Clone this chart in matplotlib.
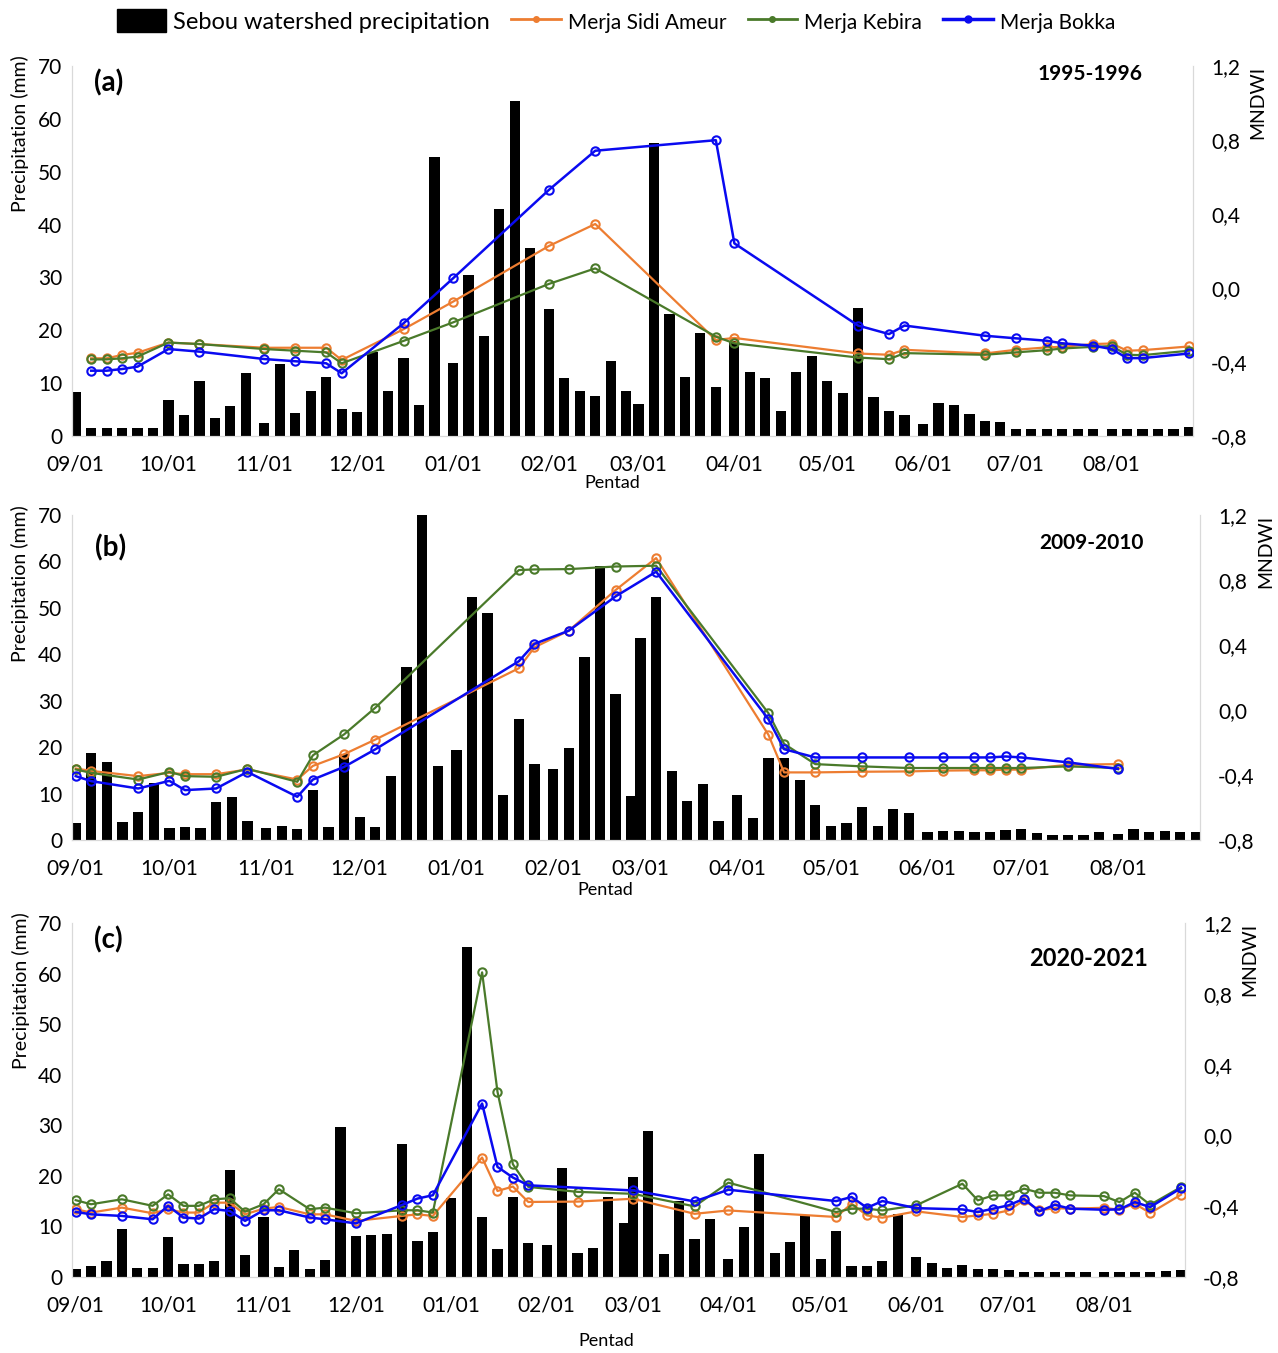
import datetime as dt
import matplotlib
matplotlib.use('Agg')
import matplotlib.pyplot as plt
import matplotlib.dates as mdates
from matplotlib.lines import Line2D
from matplotlib.patches import Patch
from matplotlib.ticker import FixedLocator, FuncFormatter

plt.rcParams['font.family'] = ['Lato', 'DejaVu Sans']

# precipitation per pentad (1,6,11,16,21,26 of each month, Sep -> Aug)
prec_a = [8.4, 1.45, 1.45, 1.6, 1.45, 1.6, 6.8, 4.0, 10.5, 3.4, 5.7, 12.0,
          2.4, 13.6, 4.4, 8.5, 11.2, 5.2, 4.6, 15.8, 8.6, 14.7, 5.9, 52.7,
          13.8, 30.4, 18.9, 42.9, 63.4, 35.6, 24.0, 11.0, 8.6, 7.6, 14.1, 8.6,
          6.0, 55.4, 23.0, 11.1, 19.5, 9.2, 18.0, 12.1, 11.0, 4.7, 12.1, 15.1,
          10.4, 8.2, 24.2, 7.3, 4.7, 4.0, 2.2, 6.2, 5.8, 4.1, 2.8, 2.6,
          1.4, 1.25, 1.25, 1.25, 1.25, 1.25, 1.25, 1.25, 1.25, 1.25, 1.25, 1.7]
prec_b = [3.6, 18.8, 16.7, 3.8, 6.1, 12.2, 2.6, 2.7, 2.6, 8.1, 9.3, 4.1,
          2.5, 3.1, 2.3, 10.7, 2.9, 18.6, 5.0, 2.9, 13.7, 37.2, 70, 16.0,
          19.3, 52.4, 49.0, 9.7, 26.1, 16.3, 15.4, 19.8, 39.4, 59.1, 31.5, 9.4,
          43.5, 52.4, 14.8, 8.4, 12.1, 4.1, 9.6, 4.8, 17.6, 17.6, 12.9, 7.6,
          3.1, 3.7, 7.1, 3.0, 6.6, 5.8, 1.7, 1.9, 1.9, 1.7, 1.7, 2.1,
          2.3, 1.6, 1.0, 1.0, 1.0, 1.7, 1.2, 2.3, 1.7, 1.9, 1.7, 1.7]
prec_c = [1.5, 2.2, 3.2, 9.4, 1.7, 1.7, 7.9, 2.6, 2.5, 3.2, 21.2, 4.4,
          11.9, 2.0, 5.3, 1.6, 3.3, 29.6, 8.1, 8.4, 8.6, 26.3, 7.1, 8.9,
          15.7, 65.3, 11.9, 5.6, 15.9, 6.8, 6.3, 21.5, 4.7, 5.8, 15.9, 10.6,
          19.7, 28.9, 4.5, 15.0, 7.6, 11.4, 3.5, 9.8, 24.4, 4.8, 6.9, 12.2,
          3.6, 9.1, 2.2, 2.2, 3.2, 12.4, 4.0, 2.8, 1.7, 2.4, 1.6, 1.5,
          1.3, 1.0, 0.9, 0.9, 0.9, 0.9, 0.9, 0.9, 0.9, 0.9, 1.2, 1.3]

# MNDWI: pentad index of each image, then values
idx_a = [1, 2, 3, 4, 6, 8, 12, 14, 16, 17, 21, 24, 30, 33, 41, 42, 50, 52, 53, 58, 60, 62, 63, 65, 66, 67, 68, 71]
sidi_a = [-0.380, -0.380, -0.362, -0.350, -0.295, -0.303, -0.323, -0.323, -0.323, -0.389, -0.223, -0.074, 0.227, 0.346,
          -0.281, -0.270, -0.354, -0.361, -0.334, -0.354, -0.334, -0.321, -0.318, -0.303, -0.300, -0.339, -0.336, -0.316]
kebira_a = [-0.386, -0.386, -0.380, -0.371, -0.295, -0.303, -0.330, -0.339, -0.348, -0.407, -0.286, -0.186, 0.022, 0.106,
            -0.263, -0.299, -0.376, -0.385, -0.352, -0.361, -0.348, -0.336, -0.327, -0.318, -0.314, -0.361, -0.363, -0.339]
bokka_a = [-0.447, -0.447, -0.438, -0.425, -0.330, -0.344, -0.384, -0.396, -0.407, -0.461, -0.191, 0.052, 0.530, 0.742,
           0.799, 0.241, -0.203, -0.249, -0.203, -0.258, -0.272, -0.285, -0.299, -0.312, -0.330, -0.379, -0.379, -0.354]

idx_b = [0, 1, 4, 6, 7, 9, 11, 14, 15, 17, 19, 28, 29, 31, 34, 37, 44, 45, 47, 50, 53, 55, 57, 58, 59, 60, 63, 66]
sidi_b = [-0.360, -0.375, -0.407, -0.387, -0.395, -0.395, -0.366, -0.428, -0.344, -0.272, -0.182, 0.257, 0.386, 0.488,
          0.738, 0.935, -0.153, -0.384, -0.384, -0.380, -0.378, -0.373, -0.371, -0.371, -0.367, -0.367, -0.337, -0.333]
kebira_b = [-0.366, -0.387, -0.428, -0.381, -0.407, -0.411, -0.362, -0.442, -0.279, -0.150, 0.014, 0.861, 0.865, 0.867,
            0.883, 0.888, -0.020, -0.208, -0.333, -0.347, -0.357, -0.357, -0.357, -0.357, -0.357, -0.357, -0.347, -0.357]
bokka_b = [-0.407, -0.438, -0.483, -0.436, -0.493, -0.483, -0.381, -0.534, -0.428, -0.350, -0.242, 0.300, 0.407, 0.488,
           0.699, 0.851, -0.057, -0.241, -0.292, -0.292, -0.292, -0.292, -0.292, -0.292, -0.286, -0.292, -0.322, -0.363]

idx_c = [0, 1, 3, 5, 6, 7, 8, 9, 10, 11, 12, 13, 15, 16, 18, 21, 22, 23, 26, 27, 28, 29, 32, 36, 40, 42,
         49, 50, 51, 52, 54, 57, 58, 59, 60, 61, 62, 63, 64, 66, 67, 68, 69, 71]
sidi_c = [-0.417, -0.436, -0.408, -0.440, -0.417, -0.436, -0.436, -0.380, -0.380, -0.446, -0.414, -0.404, -0.446, -0.446,
          -0.483, -0.455, -0.446, -0.455, -0.125, -0.314, -0.289, -0.376, -0.374, -0.358, -0.443, -0.424,
          -0.461, -0.386, -0.452, -0.465, -0.429, -0.461, -0.452, -0.443, -0.424, -0.367, -0.424, -0.411, -0.414,
          -0.409, -0.420, -0.386, -0.439, -0.335]
kebira_c = [-0.366, -0.389, -0.361, -0.398, -0.333, -0.398, -0.398, -0.361, -0.355, -0.431, -0.389, -0.304, -0.417, -0.408,
            -0.440, -0.423, -0.423, -0.436, 0.921, 0.246, -0.163, -0.291, -0.319, -0.330, -0.401, -0.267,
            -0.433, -0.414, -0.414, -0.424, -0.395, -0.273, -0.367, -0.339, -0.339, -0.301, -0.324, -0.324, -0.339,
            -0.343, -0.377, -0.324, -0.392, -0.292]
idx_c_bokka = [0, 1, 3, 5, 6, 7, 8, 9, 10, 11, 12, 13, 15, 16, 18, 21, 22, 23, 26, 27, 28, 29, 36, 40, 42,
               49, 50, 51, 52, 54, 57, 58, 59, 60, 61, 62, 63, 64, 66, 67, 68, 69, 71]
bokka_c = [-0.432, -0.446, -0.455, -0.474, -0.398, -0.464, -0.470, -0.417, -0.427, -0.483, -0.423, -0.423, -0.464, -0.474,
           -0.497, -0.393, -0.357, -0.338, 0.180, -0.178, -0.238, -0.282, -0.311, -0.373, -0.307,
           -0.371, -0.348, -0.409, -0.371, -0.411, -0.418, -0.433, -0.414, -0.395, -0.358, -0.429, -0.392, -0.414,
           -0.420, -0.418, -0.377, -0.405, -0.298]

c_sidi = '#ED7D31'
c_keb = '#4A7A2A'
c_bok = '#0A0AF0'


def pentads(y0):
    out = []
    for k in range(12):
        m = (8 + k) % 12 + 1
        y = y0 if m >= 9 else y0 + 1
        for d in (1, 6, 11, 16, 21, 26):
            out.append(mdates.date2num(dt.date(y, m, d)))
    return out


panels = [
    dict(rect=[72, 66, 1193, 436], y0=1995, lab='(a)', yr='1995-1996', prec=prec_a,
         s=(idx_a, sidi_a), k=(idx_a, kebira_a), b=(idx_a, bokka_a), yrpos=(0.955, 0.978), yrsize=15,
         labpos=(0.02, 0.955), pent=(0.482, -0.127)),
    dict(rect=[72, 515, 1200, 840], y0=2009, lab='(b)', yr='2009-2010', prec=prec_b,
         s=(idx_b, sidi_b), k=(idx_b, kebira_b), b=(idx_b, bokka_b), yrpos=(0.95, 0.915), yrsize=15,
         labpos=(0.02, 0.90), pent=(0.4725, -0.154)),
    dict(rect=[72, 923, 1185, 1277], y0=2020, lab='(c)', yr='2020-2021', prec=prec_c,
         s=(idx_c, sidi_c), k=(idx_c, kebira_c), b=(idx_c_bokka, bokka_c), yrpos=(0.967, 0.90), yrsize=17,
         labpos=(0.02, 0.952), pent=(0.48, -0.18)),
]

W, H = 1278, 1353
fig = plt.figure(figsize=(W / 100, H / 100), dpi=100)

for p in panels:
    x0, top, x1, bot = p['rect']
    ax = fig.add_axes([x0 / W, 1 - bot / H, (x1 - x0) / W, (bot - top) / H])
    xs = pentads(p['y0'])
    ax.bar(xs, p['prec'], width=3.3, color='black', zorder=2)
    ax.set_ylim(0, 70)
    ax.set_yticks(range(0, 71, 10))
    ax.set_xlim(xs[0] - 1.2, xs[-1] + 1.3)
    ax.xaxis.set_major_locator(mdates.MonthLocator())
    ax.xaxis.set_major_formatter(mdates.DateFormatter('%m/%d'))
    ax.tick_params(axis='both', length=0, labelsize=15)
    ax.tick_params(axis='x', pad=13)
    ax.tick_params(axis='y', pad=7)
    for sp in ['left', 'right', 'bottom']:
        ax.spines[sp].set_color('#d9d9d9')
    ax.spines['top'].set_visible(False)

    ax2 = ax.twinx()
    ax2.set_ylim(-0.8, 1.2)
    ax2.yaxis.set_major_locator(FixedLocator([-0.8, -0.4, 0.0, 0.4, 0.8, 1.2]))
    ax2.yaxis.set_major_formatter(FuncFormatter(lambda v, pos: ('%.1f' % v).replace('.', ',')))
    ax2.tick_params(axis='y', length=0, labelsize=15, pad=13)
    for sp in ['left', 'right', 'bottom']:
        ax2.spines[sp].set_color('#d9d9d9')
    ax2.spines['top'].set_visible(False)

    for key, col, lw in [('s', c_sidi, 1.6), ('k', c_keb, 1.6), ('b', c_bok, 1.8)]:
        idx, vals = p[key]
        ax2.plot([xs[i] for i in idx], vals, color=col, lw=lw, marker='o', ms=6,
                 mfc='none', mec=col, mew=1.5, zorder=3)

    ax.text(-0.046, 1.03, 'Precipitation (mm)', transform=ax.transAxes, rotation=90,
            ha='center', va='top', fontsize=14)
    ax2.text(1.058, 1.0, 'MNDWI', transform=ax.transAxes, rotation=90,
             ha='center', va='top', fontsize=14)
    ax.text(p['labpos'][0], p['labpos'][1], p['lab'], transform=ax.transAxes,
            ha='left', va='center', fontsize=20, fontweight='bold')
    ax.text(p['yrpos'][0], p['yrpos'][1], p['yr'], transform=ax.transAxes,
            ha='right', va='center', fontsize=p['yrsize'], fontweight='bold')
    ax.text(p['pent'][0], p['pent'][1], 'Pentad', transform=ax.transAxes,
            ha='center', va='center', fontsize=13)

handles = [Patch(facecolor='black', edgecolor='black'),
           Line2D([], [], color=c_sidi, lw=2, marker='o', ms=4),
           Line2D([], [], color=c_keb, lw=2, marker='o', ms=4),
           Line2D([], [], color=c_bok, lw=2.5, marker='o', ms=5)]
labels = ['Sebou watershed precipitation', 'Merja Sidi Ameur', 'Merja Kebira', 'Merja Bokka']
leg = fig.legend(handles, labels, loc='center', bbox_to_anchor=(0.482, 1 - 21 / H), ncol=4,
                 frameon=False, fontsize=17, handlelength=2.1, handleheight=1.1,
                 handletextpad=0.3, columnspacing=0.9)
for t in leg.get_texts()[1:]:
    t.set_fontsize(15)

fig.savefig('out.png', dpi=100)
